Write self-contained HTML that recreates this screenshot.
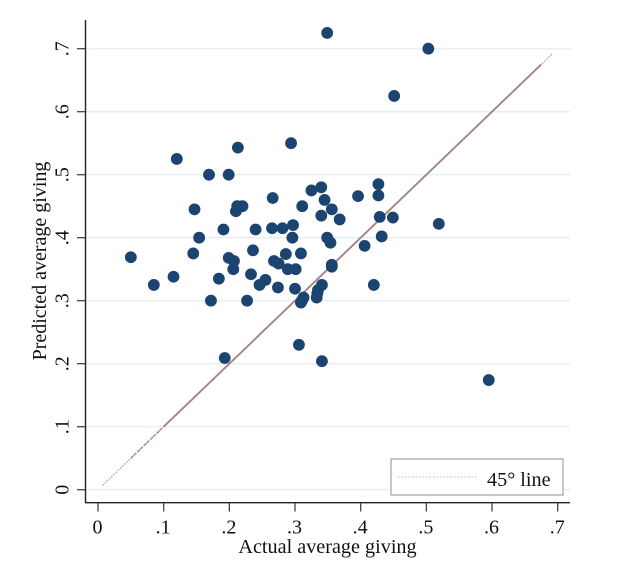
<!DOCTYPE html>
<html lang="en">
<head>
<meta charset="utf-8">
<title>Predicted vs actual average giving</title>
<style>
html,body{margin:0;padding:0;background:#fff;width:640px;height:583px;overflow:hidden}
svg{display:block;filter:blur(0.35px)}
text{font-family:"Liberation Serif",serif;fill:#111}
</style>
</head>
<body>
<svg id="chart" width="640" height="583" viewBox="0 0 640 583" xmlns="http://www.w3.org/2000/svg"></svg>
<script>
var xTickValues = [0, 0.1, 0.2, 0.3, 0.4, 0.5, 0.6, 0.7];
var xTickLabels = ["0", ".1", ".2", ".3", ".4", ".5", ".6", ".7"];
var yTickValues = [0, 0.1, 0.2, 0.3, 0.4, 0.5, 0.6, 0.7];
var yTickLabels = ["0", ".1", ".2", ".3", ".4", ".5", ".6", ".7"];
var actualGiving = [
  .213,.120,.169,.199,.266,.147,.210,.212,.220,.191,.240,.265,.281,.154,.236,.145,.050,.199,.207,.206,
  .268,.275,.115,.085,.184,.233,.255,.246,.274,.172,.227,.294,.325,.340,.345,.311,.356,.368,.340,.396,
  .427,.427,.429,.449,.519,.297,.296,.349,.354,.432,.406,.286,.309,.289,.301,.356,.300,.341,.335,.333,
  .334,.420,.313,.309,.311,.349,.503,.451,.595,.341,.306,.193,.356
];
var predictedGiving = [
  .543,.525,.500,.500,.463,.445,.442,.450,.450,.413,.413,.415,.415,.400,.380,.375,.369,.368,.363,.350,
  .363,.359,.338,.325,.335,.342,.333,.325,.321,.300,.300,.550,.475,.480,.460,.450,.445,.429,.435,.466,
  .485,.467,.433,.432,.422,.420,.400,.400,.392,.402,.387,.374,.375,.350,.350,.354,.319,.325,.317,.305,
  .312,.325,.305,.297,.301,.725,.700,.625,.174,.204,.230,.209,.357
];
var lineStart = 0.007;
var lineDashStart = 0.05;
var lineSolidStart = 0.10;
var lineSolidEnd = 0.675;
var lineEnd = 0.692;

var svg = document.getElementById('chart');
var NS = 'http://www.w3.org/2000/svg';
function sx(v){ return 98 + v * 656.7; }
function sy(v){ return 489.7 - v * 630; }
function make(tag, attrs, parent){
  var el = document.createElementNS(NS, tag);
  for (var k in attrs) el.setAttribute(k, attrs[k]);
  (parent || svg).appendChild(el);
  return el;
}

var i, el;

// gridlines
for (i = 0; i < yTickValues.length; i++) {
  el = make('line', {x1: 86, x2: 570, y1: sy(yTickValues[i]), y2: sy(yTickValues[i]), stroke: '#e8f0f1', 'stroke-width': 1.6});
  
  
}

// 45 degree line (dotted tails, dashed transition, solid middle)
el = make('line', {x1: sx(lineStart), y1: sy(lineStart), x2: sx(lineEnd), y2: sy(lineEnd), stroke: '#b79a9a', 'stroke-width': 1.3, 'stroke-dasharray': '1.5 1.5'});


el = make('line', {x1: sx(lineDashStart), y1: sy(lineDashStart), x2: sx(lineSolidStart), y2: sy(lineSolidStart), stroke: '#a88888', 'stroke-width': 1.5, 'stroke-dasharray': '3 1.5'});


el = make('line', {x1: sx(lineSolidStart), y1: sy(lineSolidStart), x2: sx(lineSolidEnd), y2: sy(lineSolidEnd), stroke: '#a58484', 'stroke-width': 1.9});



// points
for (i = 0; i < actualGiving.length; i++) {
  el = make('circle', {cx: sx(actualGiving[i]), cy: sy(predictedGiving[i]), r: 5.9, fill: '#1b4570'});
  
  
}

// axes
el = make('line', {x1: 85.5, x2: 85.5, y1: 20, y2: 503, stroke: '#222', 'stroke-width': 1.4});


el = make('line', {x1: 85, x2: 570, y1: 502.7, y2: 502.7, stroke: '#222', 'stroke-width': 1.4});



// x ticks and labels
for (i = 0; i < xTickValues.length; i++) {
  el = make('line', {x1: sx(xTickValues[i]), x2: sx(xTickValues[i]), y1: 503, y2: 511.5, stroke: '#444', 'stroke-width': 1.3});
  
  
  el = make('text', {x: sx(xTickValues[i]) - 0.5, y: 533.5, 'text-anchor': 'middle', 'font-size': 20});
  el.textContent = xTickLabels[i];
  
  
}

// y ticks and labels
for (i = 0; i < yTickValues.length; i++) {
  el = make('line', {x1: 77, x2: 85, y1: sy(yTickValues[i]), y2: sy(yTickValues[i]), stroke: '#444', 'stroke-width': 1.3});
  
  
  el = make('text', {transform: 'translate(68.5 ' + sy(yTickValues[i]) + ') rotate(-90)', 'text-anchor': 'middle', 'font-size': 20});
  el.textContent = yTickLabels[i];
  
  
}

// axis titles
el = make('text', {x: 327.5, y: 553, 'text-anchor': 'middle', 'font-size': 20.2});
el.textContent = 'Actual average giving';


el = make('text', {transform: 'translate(46 261) rotate(-90)', 'text-anchor': 'middle', 'font-size': 20});
el.textContent = 'Predicted average giving';



// legend
el = make('rect', {x: 391, y: 459, width: 172, height: 36, fill: '#fff', stroke: '#a9a9a9', 'stroke-width': 1.3});


el = make('line', {x1: 398, x2: 477, y1: 477, y2: 477, stroke: '#c4b4b4', 'stroke-width': 1.1, 'stroke-dasharray': '1.5 2'});


el = make('text', {x: 487, y: 486, 'font-size': 20.2});
el.textContent = '45° line';


</script>
</body>
</html>
